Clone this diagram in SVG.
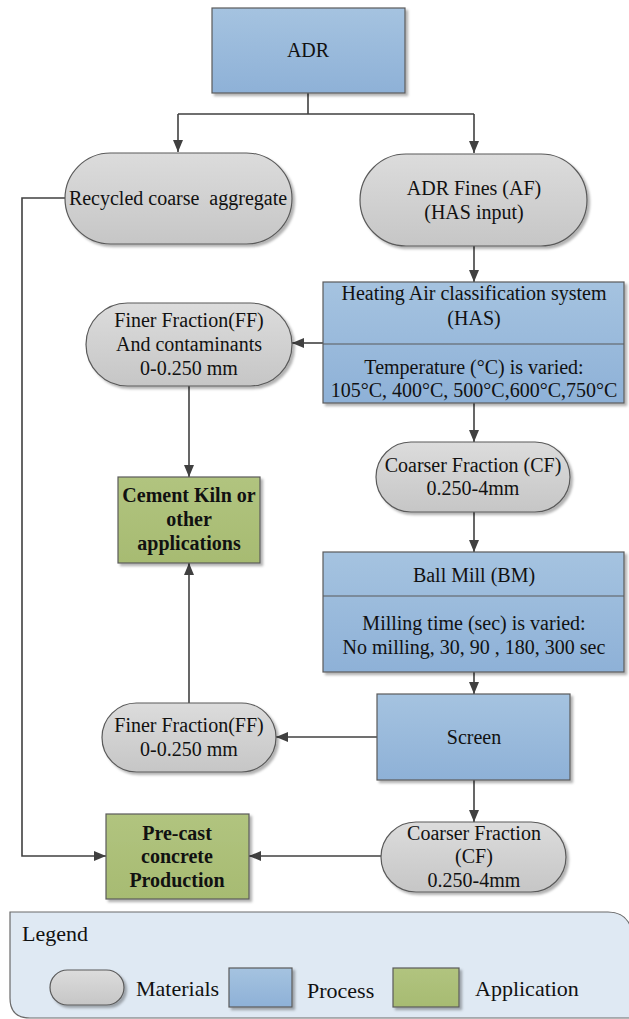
<svg xmlns="http://www.w3.org/2000/svg" width="629" height="1019" viewBox="0 0 629 1019">
<defs>
<linearGradient id="gBlue" x1="0" y1="0" x2="0" y2="1"><stop offset="0" stop-color="#a5c3e0"/><stop offset="1" stop-color="#8eb1d7"/></linearGradient>
<linearGradient id="gGrey" x1="0" y1="0" x2="0" y2="1"><stop offset="0" stop-color="#dcdcdc"/><stop offset="1" stop-color="#c6c6c6"/></linearGradient>
<linearGradient id="gGreen" x1="0" y1="0" x2="0" y2="1"><stop offset="0" stop-color="#b1c47f"/><stop offset="1" stop-color="#a7bb72"/></linearGradient>
<filter id="sh" x="-10%" y="-10%" width="130%" height="130%"><feDropShadow dx="2.5" dy="2.5" stdDeviation="1.2" flood-color="#000" flood-opacity="0.3"/></filter>
<marker id="arr" viewBox="0 0 12 10" refX="12" refY="5" markerWidth="12" markerHeight="10" markerUnits="userSpaceOnUse" orient="auto"><path d="M0,0 L12,5 L0,10 z" fill="#404040"/></marker>
<style>
.blue{fill:url(#gBlue);stroke:#5a5a5a;stroke-width:1.2;filter:url(#sh)}
.grey{fill:url(#gGrey);stroke:#5a5a5a;stroke-width:1.2;filter:url(#sh)}
.green{fill:url(#gGreen);stroke:#5a5a5a;stroke-width:1.2;filter:url(#sh)}
.div{stroke:#5a5a5a;stroke-width:1.2}
.t{font-family:"Liberation Serif","Times New Roman",serif;font-size:20px;fill:#111;text-anchor:middle}
.b{font-weight:bold}
.lg{font-family:"Liberation Serif","Times New Roman",serif;font-size:22px;fill:#111}
.c{fill:none;stroke:#404040;stroke-width:1.6}
.ca{fill:none;stroke:#404040;stroke-width:1.6;marker-end:url(#arr)}
</style>
</defs>
<g id="connectors">
<path class="c" d="M308 92 V114 M178 114 H474"/>
<path class="ca" d="M178 114 V152"/>
<path class="ca" d="M474 114 V153"/>
<path class="ca" d="M474 246 V282"/>
<path class="ca" d="M323 343 H292"/>
<path class="ca" d="M189 386 V477"/>
<path class="ca" d="M474 403 V442"/>
<path class="ca" d="M474 512 V552"/>
<path class="ca" d="M474 672 V694"/>
<path class="ca" d="M377 737 H276"/>
<path class="ca" d="M189 703 V563"/>
<path class="ca" d="M474 780 V822"/>
<path class="ca" d="M381 856 H249"/>
<path class="ca" d="M65 198 H22 V856 H106"/>
</g>
<g id="adr"><rect class="blue" x="212" y="8" width="193" height="85"/><text class="t" x="308" y="57">ADR</text></g>
<g id="recycled"><rect class="grey" x="65" y="153" width="227" height="91" rx="45.5"/><text class="t" x="178" y="205" xml:space="preserve">Recycled coarse  aggregate</text></g>
<g id="af"><rect class="grey" x="360" y="154" width="227" height="92" rx="46"/><text class="t" x="474" y="195">ADR Fines (AF)</text><text class="t" x="474" y="219">(HAS input)</text></g>
<g id="has"><rect class="blue" x="323" y="282" width="301" height="121"/><line class="div" x1="323" y1="344" x2="624" y2="344"/><text class="t" x="474" y="300">Heating Air classification system</text><text class="t" x="474" y="325">(HAS)</text><text class="t" x="474" y="374">Temperature (°C) is varied:</text><text class="t" x="474" y="397">105°C, 400°C, 500°C,600°C,750°C</text></g>
<g id="ff1"><rect class="grey" x="86" y="303" width="206" height="83" rx="41.5"/><text class="t" x="189" y="327">Finer Fraction(FF)</text><text class="t" x="189" y="351">And contaminants</text><text class="t" x="189" y="375">0-0.250 mm</text></g>
<g id="cf1"><rect class="grey" x="376" y="442" width="194" height="70" rx="35"/><text class="t" x="473" y="472">Coarser Fraction (CF)</text><text class="t" x="473" y="495">0.250-4mm</text></g>
<g id="kiln"><rect class="green" x="118" y="477" width="142" height="86"/><text class="t b" x="189" y="502">Cement Kiln or</text><text class="t b" x="189" y="526">other</text><text class="t b" x="189" y="550">applications</text></g>
<g id="bm"><rect class="blue" x="323" y="552" width="301" height="120"/><line class="div" x1="323" y1="596" x2="624" y2="596"/><text class="t" x="474" y="582">Ball Mill (BM)</text><text class="t" x="474" y="630">Milling time (sec) is varied:</text><text class="t" x="474" y="654">No milling, 30, 90 , 180, 300 sec</text></g>
<g id="screen"><rect class="blue" x="377" y="694" width="193" height="86"/><text class="t" x="474" y="744">Screen</text></g>
<g id="ff2"><rect class="grey" x="102" y="703" width="174" height="69" rx="34.5"/><text class="t" x="189" y="732">Finer Fraction(FF)</text><text class="t" x="189" y="756">0-0.250 mm</text></g>
<g id="cf2"><rect class="grey" x="381" y="822" width="185" height="70" rx="35"/><text class="t" x="474" y="840">Coarser Fraction</text><text class="t" x="474" y="863">(CF)</text><text class="t" x="474" y="887">0.250-4mm</text></g>
<g id="precast"><rect class="green" x="106" y="814" width="143" height="85"/><text class="t b" x="177" y="840">Pre-cast</text><text class="t b" x="177" y="863">concrete</text><text class="t b" x="177" y="887">Production</text></g>
<g id="legend">
<path d="M10 912 H608 Q628 912 632 932 V1018 H30 Q10 1018 10 998 Z" fill="#dfe9f3" stroke="#6a6a6a" stroke-width="1.2"/>
<text class="lg" x="22" y="941">Legend</text>
<rect class="grey" x="50" y="970" width="74" height="35" rx="17.5"/>
<text class="lg" x="136" y="996">Materials</text>
<rect class="blue" x="229" y="968" width="63" height="39"/>
<text class="lg" x="307" y="998">Process</text>
<rect class="green" x="393" y="968" width="66" height="39"/>
<text class="lg" x="475" y="996">Application</text>
</g>
</svg>
